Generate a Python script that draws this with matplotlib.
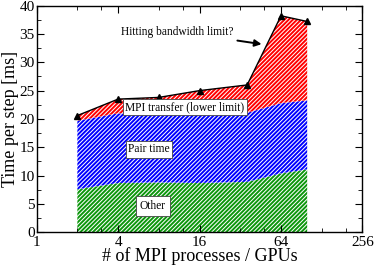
import numpy as np
import matplotlib
matplotlib.use('Agg')
import matplotlib.pyplot as plt
from matplotlib.ticker import FixedLocator, FixedFormatter, MultipleLocator

# values
procs = [2, 4, 8, 16, 36, 64, 100]
other = [7.6, 8.7, 8.8, 8.7, 8.9, 10.4, 11.1]
pair_time = [12.1, 12.3, 12.2, 12.3, 12.2, 12.4, 12.2]
total = [20.6, 23.5, 23.8, 25.0, 26.0, 38.2, 37.2]
xticks = [1, 4, 16, 64, 256]
xtick_labels = ['1', '4', '16', '64', '256']

plt.rcParams['font.family'] = ['Liberation Serif', 'DejaVu Serif']
plt.rcParams['hatch.linewidth'] = 1.4

x = np.array(procs, dtype=float)
other = np.array(other)
pair_top = other + np.array(pair_time)
total = np.array(total)

fig = plt.figure(figsize=(3.74, 2.67), dpi=100)
ax = fig.add_axes([0.098, 0.130, 0.871, 0.849])

# stacked hatched areas
hatch = '////////'
ax.fill_between(x, 0, other, facecolor='white', edgecolor='#0c960c', hatch=hatch, linewidth=0)
ax.fill_between(x, other, pair_top, facecolor='white', edgecolor='#0000ff', hatch=hatch, linewidth=0)
ax.fill_between(x, pair_top, total, facecolor='white', edgecolor='#ff0000', hatch=hatch, linewidth=0)
ax.plot(x, total, color='black', lw=1.0, marker='^', ms=5)

ax.set_xscale('log')
ax.set_xlim(1, 256)
ax.set_ylim(0, 40)
ax.xaxis.set_major_locator(FixedLocator(xticks))
ax.xaxis.set_major_formatter(FixedFormatter(xtick_labels))
minors = [m * t for t in xticks[:-1] for m in (2, 3)]
ax.xaxis.set_minor_locator(FixedLocator(minors))
ax.xaxis.set_minor_formatter(FixedFormatter([''] * len(minors)))
ax.yaxis.set_major_locator(MultipleLocator(5))
ax.yaxis.set_minor_locator(MultipleLocator(2.5))
ax.tick_params(which='both', direction='in', top=True, right=True, labelsize=11)
ax.tick_params(axis='x', pad=2.5)
ax.tick_params(axis='y', pad=1.5)
ax.tick_params(which='major', length=5, width=0.8)
ax.tick_params(which='minor', length=3, width=0.6)
for s in ax.spines.values():
    s.set_linewidth(1.0)

ax.set_xlabel('# of MPI processes / GPUs', fontsize=13, labelpad=-1)
ax.set_ylabel('Time per step [ms]', fontsize=13, labelpad=0)

fs = 8.3
box = dict(boxstyle='square,pad=0.2', facecolor='white', edgecolor='#444444', linewidth=0.6)
ax.text(12.5, 22.1, 'MPI transfer (lower limit)', fontsize=fs, ha='center', va='center', bbox=box)
ax.text(6.8, 14.65, 'Pair time', fontsize=fs, ha='center', va='center', bbox=box)
ax.text(7.2, 4.64, 'Other', fontsize=fs, ha='center', va='center',
        bbox=dict(boxstyle='square,pad=0.35', facecolor='white', edgecolor='#444444', linewidth=0.6))
ax.annotate('Hitting bandwidth limit?', xy=(46, 33.2), xytext=(10.9, 35.4),
            fontsize=fs, ha='center', va='center',
            arrowprops=dict(arrowstyle='-|>', color='black', lw=1.4, shrinkA=1, shrinkB=0,
                            mutation_scale=10))

fig.savefig('out.png', dpi=100)
